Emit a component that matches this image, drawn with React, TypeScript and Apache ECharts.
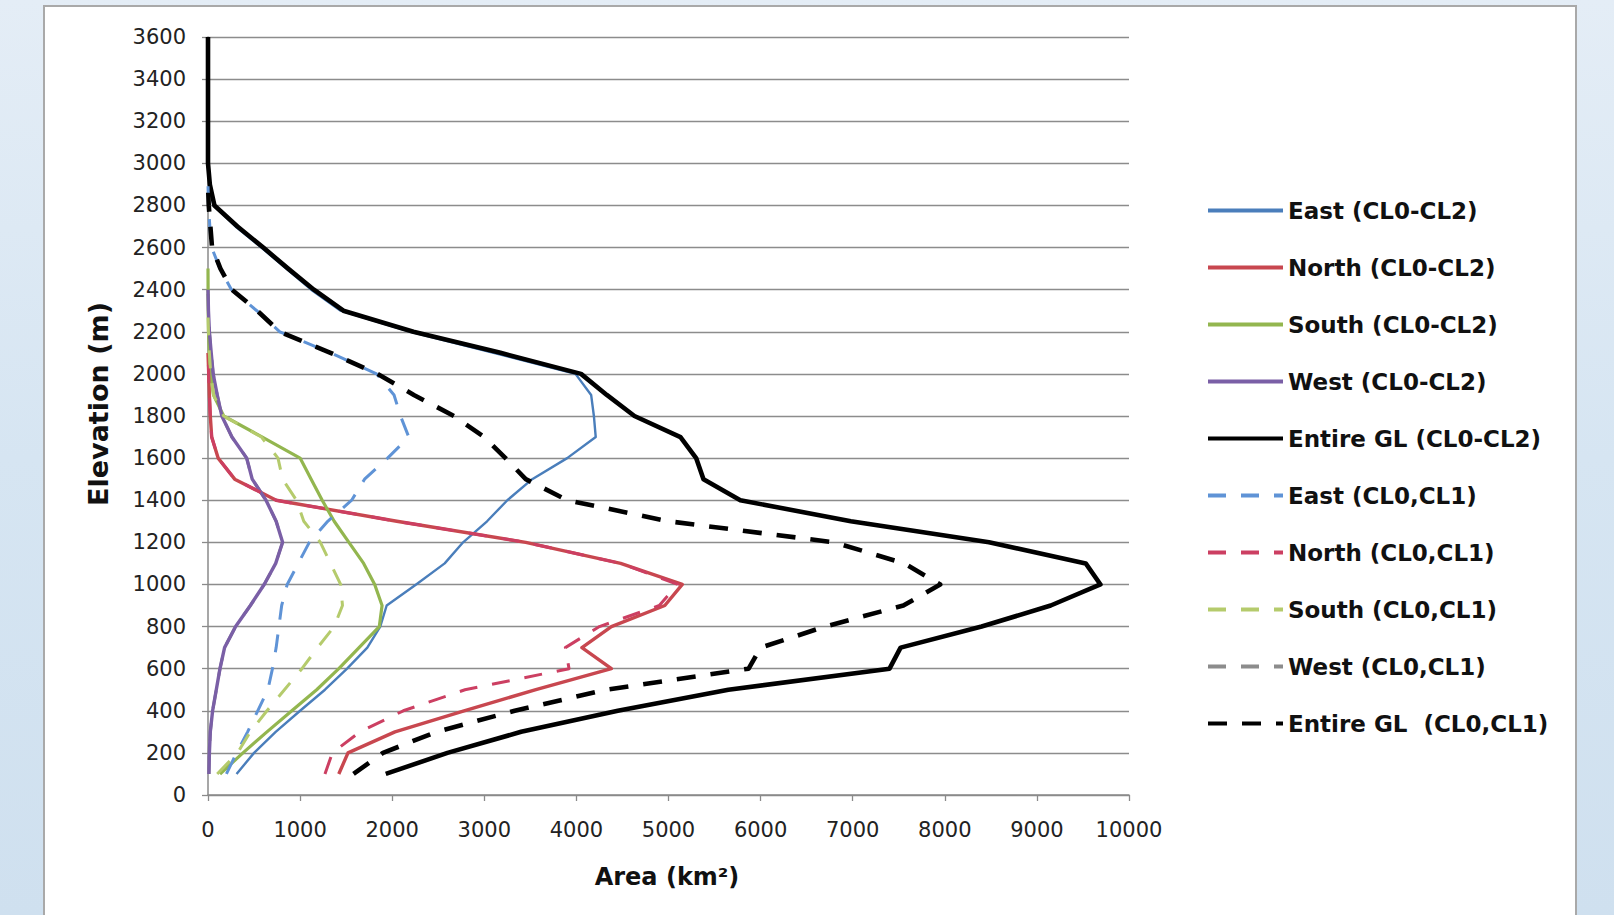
import React, { useEffect, useRef } from "react";
import * as echarts from "echarts";

const elevations = [100, 200, 300, 400, 500, 600, 700, 800, 900, 1000, 1100, 1200, 1300, 1400, 1500, 1600, 1700, 1800, 1900, 2000, 2100, 2200, 2300, 2400, 2500, 2600, 2700, 2800, 2900, 3000, 3100, 3200, 3300, 3400, 3500, 3600];

// Area (km²) at each elevation, starting at 100 m; each series ends where it reaches 0
const eastSolid = [310, 500, 735, 1000, 1270, 1510, 1730, 1870, 1940, 2260, 2570, 2770, 3030, 3250, 3520, 3900, 4210, 4190, 4160, 3990, 3100, 2200, 1440, 1120, 850, 580, 300, 60, 15, 0];
const northSolid = [1420, 1520, 2030, 2780, 3560, 4380, 4060, 4380, 4960, 5150, 4480, 3450, 2050, 740, 290, 110, 40, 25, 15, 8, 0];
const southSolid = [130, 380, 640, 910, 1180, 1420, 1640, 1860, 1890, 1810, 1690, 1530, 1370, 1240, 1120, 1000, 590, 170, 60, 30, 15, 5, 2, 1, 0];
const westSolid = [10, 15, 25, 50, 90, 130, 180, 300, 460, 610, 735, 810, 740, 630, 480, 420, 260, 150, 100, 56, 35, 15, 5, 0];
const entireSolid = [1930, 2600, 3400, 4450, 5650, 7400, 7520, 8400, 9150, 9690, 9530, 8480, 6980, 5780, 5380, 5300, 5130, 4630, 4330, 4050, 3175, 2230, 1470, 1150, 870, 600, 320, 70, 20, 0, 0, 0, 0, 0, 0, 0];

const eastDashed = [200, 310, 430, 540, 650, 700, 740, 770, 800, 860, 980, 1100, 1300, 1560, 1700, 1950, 2180, 2090, 2020, 1830, 1330, 780, 530, 255, 130, 40, 20, 5, 0];
const northDashed = [1270, 1350, 1650, 2120, 2790, 3920, 3880, 4250, 4900, 5100, 4480, 3450, 2050, 740, 290, 110, 40, 25, 15, 8, 0];
const southDashed = [100, 320, 460, 640, 830, 1020, 1190, 1370, 1460, 1440, 1330, 1220, 1040, 960, 810, 760, 580, 170, 60, 30, 15, 5, 0];
const westDashed = [10, 15, 25, 50, 90, 130, 180, 300, 460, 610, 735, 810, 740, 630, 480, 420, 260, 150, 100, 56, 35, 15, 5, 0];
const entireDashed = [1580, 1900, 2480, 3330, 4320, 5870, 6000, 6700, 7550, 7950, 7560, 6800, 5000, 3900, 3450, 3230, 3000, 2670, 2235, 1840, 1330, 780, 535, 260, 135, 44, 26, 8, 0];

const seriesNames = [
  "East (CL0-CL2)",
  "North (CL0-CL2)",
  "South (CL0-CL2)",
  "West (CL0-CL2)",
  "Entire GL (CL0-CL2)",
  "East (CL0,CL1)",
  "North (CL0,CL1)",
  "South (CL0,CL1)",
  "West (CL0,CL1)",
  "Entire GL  (CL0,CL1)",
];

const yTitle = "Elevation (m)";
const xTitle = "Area (km\u00b2)";

export default function App() {
  const ref = useRef<HTMLDivElement>(null);

  useEffect(() => {
    document.body.style.margin = "0";
    const chart = echarts.init(ref.current!, null, { renderer: "svg" });
    const pair = (vals: number[]) => vals.map((v, i) => [v, elevations[i]]);
    const mk = (name: string, vals: number[], color: string, width: number, dash: any, z = 2) => ({
      name,
      type: "line",
      data: pair(vals),
      symbol: "none",
      showSymbol: false,
      silent: true,
      z,
      lineStyle: { color, width, type: dash, cap: "butt", join: "round" },
      itemStyle: { color },
    });
    const tickFont = { fontFamily: "DejaVu Sans", fontSize: 21, color: "#222" };
    chart.setOption({
      animation: false,
      backgroundColor: "transparent",
      grid: { left: 208, right: 485, top: 37, bottom: 120, containLabel: false },
      xAxis: {
        type: "value",
        min: 0,
        max: 10000,
        interval: 1000,
        axisLine: { show: true, lineStyle: { color: "#8a8a8a", width: 1.5 } },
        axisTick: { show: true, length: 6, lineStyle: { color: "#8a8a8a", width: 1.3 } },
        splitLine: { show: false },
        axisLabel: { ...tickFont, margin: 24, formatter: (v: number) => String(v) },
      },
      yAxis: {
        type: "value",
        min: 0,
        max: 3600,
        interval: 200,
        axisLine: { show: true, lineStyle: { color: "#8a8a8a", width: 1.5 } },
        axisTick: { show: true, length: 6, lineStyle: { color: "#8a8a8a", width: 1.3 } },
        splitLine: { show: true, lineStyle: { color: "#8c8c8c", width: 1.4 } },
        axisLabel: { ...tickFont, margin: 22, formatter: (v: number) => String(v) },
      },
      legend: {
        orient: "vertical",
        left: 1206,
        top: 199,
        padding: 0,
        itemWidth: 75,
        itemHeight: 22,
        itemGap: 34,
        data: seriesNames,
        itemStyle: { opacity: 0 },
        lineStyle: { width: 4, type: "inherit" },
        textStyle: { fontFamily: "DejaVu Sans", fontWeight: "bold", fontSize: 23, lineHeight: 22, color: "#111" },
        selectedMode: false,
      },
      graphic: [
        {
          type: "text",
          x: 98,
          y: 404,
          rotation: Math.PI / 2,
          style: { text: yTitle, font: "bold 27px 'DejaVu Sans'", fill: "#111", align: "center", verticalAlign: "middle" },
        },
        {
          type: "text",
          x: 667,
          y: 877,
          style: { text: xTitle, font: "bold 24px 'DejaVu Sans'", fill: "#111", align: "center", verticalAlign: "middle" },
        },
      ],
      series: [
        mk(seriesNames[0], eastSolid, "#4a7ebb", 2.4, "solid"),
        mk(seriesNames[1], northSolid, "#c8474f", 3.4, "solid"),
        mk(seriesNames[2], southSolid, "#93b64f", 3.2, "solid"),
        mk(seriesNames[3], westSolid, "#7a5fa6", 3.4, "solid"),
        mk(seriesNames[4], entireSolid, "#000000", 4.6, "solid"),
        mk(seriesNames[5], eastDashed, "#5f93d6", 3, [18, 15]),
        mk(seriesNames[6], northDashed, "#cc3f62", 3, [18, 15]),
        mk(seriesNames[7], southDashed, "#b5cb6c", 3, [18, 15]),
        mk(seriesNames[8], westDashed, "#8c8c8c", 3, [18, 15], 1),
        mk(seriesNames[9], entireDashed, "#000000", 4.6, [19, 15]),
      ],
    });
    return () => chart.dispose();
  }, []);

  return (
    <div
      style={{
        position: "fixed",
        left: 0,
        top: 0,
        width: 1614,
        height: 915,
        overflow: "hidden",
        background: "linear-gradient(180deg, #e4edf6 0%, #d6e5f2 50%, #cfe0ef 100%)",
      }}
    >
      <div
        style={{
          position: "absolute",
          left: 43,
          top: 5,
          width: 1534,
          height: 940,
          background: "#ffffff",
          border: "2px solid #a9a9a9",
          boxSizing: "border-box",
        }}
      />
      <div ref={ref} style={{ position: "absolute", left: 0, top: 0, width: 1614, height: 915 }} />
    </div>
  );
}
